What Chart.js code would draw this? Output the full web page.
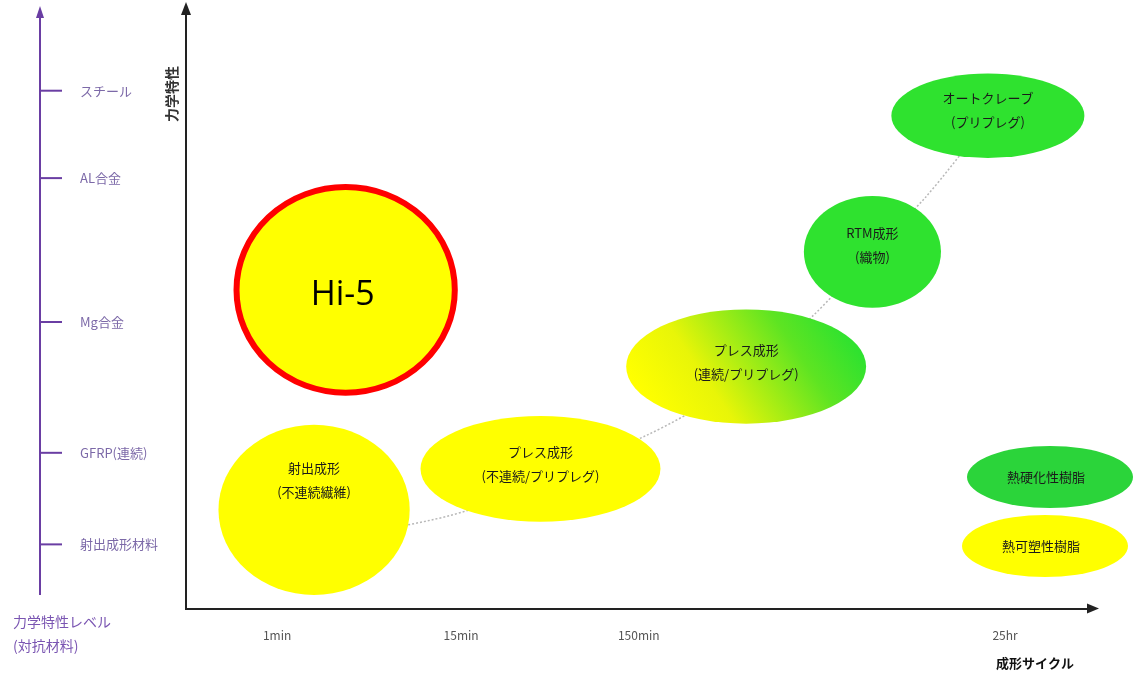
<!DOCTYPE html>
<html lang="ja">
<head>
<meta charset="UTF-8">
<title>成形サイクルと力学特性</title>
<style>
  html, body { margin: 0; padding: 0; background: #fff; }
  .chart-box { width: 1148px; height: 679px; position: relative; }
</style>
</head>
<body>
<div class="chart-box"><canvas id="chart"></canvas></div>

<script src="https://cdn.jsdelivr.net/npm/chart.js"></script>
<script>
// 成形法 (x: 成形サイクル, y: 力学特性)
const processNames = ['射出成形', 'プレス成形', 'プレス成形', 'RTM成形', 'オートクレーブ', 'Hi-5'];
const processSubs = ['(不連続繊維)', '(不連続/プリプレグ)', '(連続/プリプレグ)', '(織物)', '(プリプレグ)', ''];
const cycleValues = [14.2, 39.3, 62.1, 76.1, 88.9, 17.7];
const strengthValues = [16.6, 23.5, 40.7, 60.0, 82.9, 53.6];
const cycleSpread = [10.6, 13.3, 13.3, 7.6, 10.7, 12.1];
const strengthSpread = [14.3, 8.9, 9.6, 9.4, 7.1, 17.3];
const resinTypes = ['thermoplastic', 'thermoplastic', 'mixed', 'thermoset', 'thermoset', 'hi5'];

// 点線の傾向線
const trendX = [15.9, 31.4, 51.0, 59.1, 69.4, 76.1, 82.0, 88.9];
const trendY = [11.6, 16.6, 29.1, 36.1, 49.1, 60.0, 69.2, 82.2];

// x軸の目盛
const cycleTicks = [10.1, 30.5, 50.2, 90.8];
const cycleLabels = ['1min', '15min', '150min', '25hr'];

// 左側の比較材料
const materialNames = ['スチール', 'AL合金', 'Mg合金', 'GFRP(連続)', '射出成形材料'];
const materialLevels = [87.1, 72.4, 48.2, 26.2, 10.8];

const legendNames = ['熱硬化性樹脂', '熱可塑性樹脂'];

const GREEN = '#2fe22f';
const YELLOW = '#ffff00';
const labelLift = [42, 17, 17, 19, 18, 0]; // text block shift above centre (px)

function ellipse(ctx, cx, cy, rx, ry) {
    ctx.beginPath();
    ctx.ellipse(cx, cy, rx, ry, 0, 0, Math.PI * 2);
}

const diagramPlugin = {
    id: 'diagram',
    afterDatasetsDraw(chart) {
        const ctx = chart.ctx;
        const xs = chart.scales.x, ys = chart.scales.y;
        const area = chart.chartArea;
        ctx.save();

        // main y axis with arrow
        ctx.strokeStyle = '#222';
        ctx.fillStyle = '#222';
        ctx.lineWidth = 2;
        ctx.beginPath();
        ctx.moveTo(area.left, area.bottom);
        ctx.lineTo(area.left, area.top - 4);
        ctx.stroke();
        ctx.beginPath();
        ctx.moveTo(area.left, 2);
        ctx.lineTo(area.left - 5, 15);
        ctx.lineTo(area.left + 5, 15);
        ctx.closePath();
        ctx.fill();
        // x arrow head
        ctx.beginPath();
        ctx.moveTo(area.right, area.bottom);
        ctx.lineTo(area.right + 4, area.bottom);
        ctx.stroke();
        ctx.beginPath();
        ctx.moveTo(area.right + 11, area.bottom);
        ctx.lineTo(area.right - 1, area.bottom - 5);
        ctx.lineTo(area.right - 1, area.bottom + 5);
        ctx.closePath();
        ctx.fill();

        // axis titles
        ctx.save();
        ctx.translate(area.left - 14, 94);
        ctx.rotate(-Math.PI / 2);
        ctx.font = 'bold 14px "Noto Sans CJK JP"';
        ctx.fillStyle = '#333';
        ctx.textAlign = 'center';
        ctx.textBaseline = 'middle';
        ctx.fillText('力学特性', 0, 0);
        ctx.restore();
        ctx.font = 'bold 13px "Noto Sans CJK JP"';
        ctx.fillStyle = '#111';
        ctx.textAlign = 'center';
        ctx.textBaseline = 'middle';
        ctx.fillText('成形サイクル', 1035, 663);

        // left purple reference axis
        const px = 40;
        ctx.strokeStyle = '#6a3ea3';
        ctx.fillStyle = '#6a3ea3';
        ctx.lineWidth = 2;
        ctx.beginPath();
        ctx.moveTo(px, 595);
        ctx.lineTo(px, 16);
        ctx.stroke();
        ctx.beginPath();
        ctx.moveTo(px, 6);
        ctx.lineTo(px - 4, 18);
        ctx.lineTo(px + 4, 18);
        ctx.closePath();
        ctx.fill();
        ctx.font = '13px "Noto Sans CJK JP"';
        ctx.textBaseline = 'middle';
        ctx.textAlign = 'left';
        materialLevels.forEach((v, i) => {
            const y = ys.getPixelForValue(v);
            ctx.strokeStyle = '#6a3ea3';
            ctx.beginPath();
            ctx.moveTo(px, y);
            ctx.lineTo(px + 22, y);
            ctx.stroke();
            ctx.fillStyle = '#7c69a8';
            ctx.fillText(materialNames[i], px + 40, y);
        });
        ctx.fillStyle = '#7a55b2';
        ctx.font = '14px "Noto Sans CJK JP"';
        ctx.fillText('力学特性レベル', 13, 622);
        ctx.fillText('(対抗材料)', 13, 646);

        // process ellipses
        cycleValues.forEach((xv, i) => {
            const cx = xs.getPixelForValue(xv);
            const cy = ys.getPixelForValue(strengthValues[i]);
            const rx = Math.abs(xs.getPixelForValue(xv + cycleSpread[i]) - cx);
            const ry = Math.abs(ys.getPixelForValue(strengthValues[i] + strengthSpread[i]) - cy);
            const kind = resinTypes[i];
            ellipse(ctx, cx, cy, rx, ry);
            if (kind === 'mixed') {
                const g = ctx.createLinearGradient(cx - rx * 0.7, cy + ry, cx + rx * 0.7, cy - ry);
                g.addColorStop(0, '#ffff00');
                g.addColorStop(0.3, '#e8f508');
                g.addColorStop(0.75, '#5ee422');
                g.addColorStop(1, GREEN);
                ctx.fillStyle = g;
            } else if (kind === 'thermoset') {
                ctx.fillStyle = GREEN;
            } else {
                ctx.fillStyle = YELLOW;
            }
            ctx.fill();
            if (kind === 'hi5') {
                ctx.lineWidth = 6;
                ctx.strokeStyle = '#ff0000';
                ctx.stroke();
                ctx.fillStyle = '#000';
                ctx.font = '34px "Open Sans"';
                ctx.textAlign = 'center';
                ctx.textBaseline = 'middle';
                ctx.fillText(processNames[i], cx - 3, cy + 5);
            } else {
                ctx.fillStyle = '#1a1a1a';
                ctx.font = '13px "Noto Sans CJK JP"';
                ctx.textAlign = 'center';
                ctx.textBaseline = 'middle';
                const ty = cy - labelLift[i];
                ctx.fillText(processNames[i], cx, ty);
                ctx.fillText(processSubs[i], cx, ty + 24);
            }
        });

        // legend
        const legendSpots = [{ x: 1050, y: 477, c: '#2bd43a' }, { x: 1045, y: 546, c: YELLOW }];
        legendNames.forEach((name, i) => {
            const s = legendSpots[i];
            ellipse(ctx, s.x, s.y, 83, 31);
            ctx.fillStyle = s.c;
            ctx.fill();
            ctx.fillStyle = '#1a1a1a';
            ctx.font = '13px "Noto Sans CJK JP"';
            ctx.textAlign = 'center';
            ctx.textBaseline = 'middle';
            ctx.fillText(name, s.x - 4, s.y);
        });

        ctx.restore();
    }
};

const ctx = document.getElementById('chart').getContext('2d');
new Chart(ctx, {
    type: 'scatter',
    data: {
        datasets: [{
            label: 'trend',
            data: trendX.map((x, i) => ({ x: x, y: trendY[i] })),
            showLine: true,
            borderColor: '#b8b8b8',
            borderWidth: 1.5,
            borderDash: [2, 2],
            pointRadius: 0,
            tension: 0.3
        }]
    },
    options: {
        responsive: true,
        maintainAspectRatio: false,
        animation: false,
        layout: { padding: { left: 186, right: 60, top: 14, bottom: 16 } },
        plugins: {
            legend: { display: false },
            tooltip: { enabled: false }
        },
        scales: {
            x: {
                type: 'linear',
                min: 0,
                max: 100,
                grid: { display: false, drawTicks: false },
                border: { display: true, color: '#222', width: 2 },
                afterBuildTicks: scale => {
                    scale.ticks = cycleTicks.map(v => ({ value: v }));
                },
                ticks: {
                    autoSkip: false,
                    maxRotation: 0,
                    padding: 20,
                    color: '#555',
                    font: { family: '"Noto Sans CJK JP"', size: 12 },
                    callback: value => cycleLabels[cycleTicks.indexOf(value)]
                }
            },
            y: {
                type: 'linear',
                display: false,
                min: 0,
                max: 100
            }
        }
    },
    plugins: [diagramPlugin]
});
</script>
</body>
</html>
